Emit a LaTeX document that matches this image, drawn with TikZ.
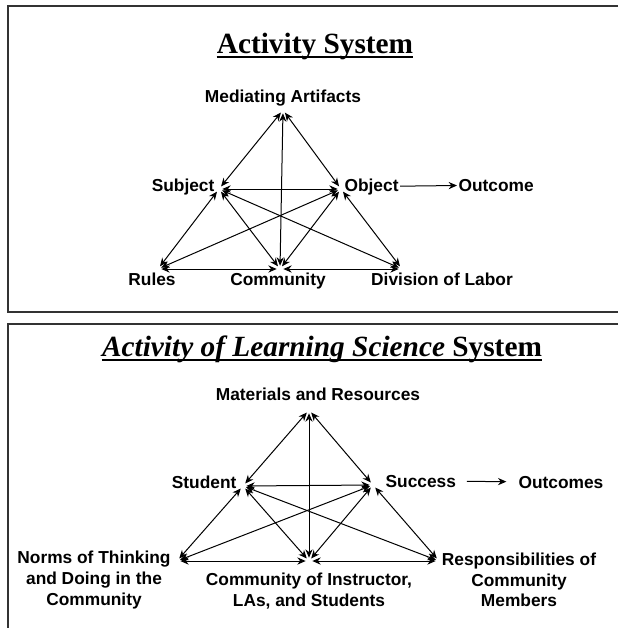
\documentclass[tikz,border=0pt]{standalone}
\usepackage{fontspec}
\setmainfont{Liberation Serif}
\setsansfont{Liberation Sans}
\usetikzlibrary{arrows.meta,positioning}

\begin{document}
\begin{tikzpicture}[x=0.75pt,y=-0.75pt,
    lbl/.style={font=\sffamily\bfseries\fontsize{13}{15.5}\selectfont, align=center, inner sep=1pt},
    ttl/.style={font=\bfseries\fontsize{22}{26}\selectfont, inner sep=0pt, anchor=base},
    link/.style={{Stealth[length=2.2mm,width=1.9mm]}-{Stealth[length=2.2mm,width=1.9mm]}, line width=0.75pt, shorten <=2.5pt, shorten >=2.5pt},
    arrow/.style={-{Stealth[length=2.2mm,width=1.9mm]}, line width=0.75pt},
    frame/.style={line width=1.2pt, draw=black!80}
  ]
    \useasboundingbox (0,0) rectangle (618,628);
    % frames
    \draw[frame] (618,6) -- (8,6) -- (8,312) -- (618,312);
    \draw[frame] (618,324) -- (8,324) -- (8,628);

    % activity system
    \node[ttl] (t1) at (315,53) {Activity System};
    \draw[line width=1.3pt] ([yshift=-3pt]t1.base west) -- ([yshift=-3pt]t1.base east);

    \coordinate (ma) at (283,110);
    \coordinate (s) at (219,189);
    \coordinate (o) at (341,189);
    \coordinate (r) at (158,269);
    \coordinate (c) at (280,269);
    \coordinate (d) at (402,269);

    \node[lbl, anchor=base] (med) at (283,102) {Mediating Artifacts};
    \node[lbl, anchor=base east] (subj) at (216,191) {Subject};
    \node[lbl, anchor=base west] (obj) at (343,191) {Object};
    \node[lbl, anchor=base west] (out) at (457,191) {Outcome};
    \node[lbl, anchor=base] (rul) at (152,285) {Rules};
    \node[lbl, anchor=base] (com) at (278,285) {Community};
    \node[lbl, anchor=base] (div) at (442,285) {Division of Labor};

    \draw[link] (ma) -- (s);
    \draw[link] (ma) -- (o);
    \draw[link] (ma) -- (c);
    \draw[link] (s) -- (o);
    \draw[link] (s) -- (r);
    \draw[link] (s) -- (c);
    \draw[link] (s) -- (d);
    \draw[link] (o) -- (r);
    \draw[link] (o) -- (c);
    \draw[link] (o) -- (d);
    \draw[link] (r) -- (c);
    \draw[link] (c) -- (d);
    \draw[arrow] (obj) -- (out);

    % learning science system
    \node[ttl] (t2) at (322,356) {{\itshape Activity of Learning Science} System};
    \draw[line width=1.3pt] ([yshift=-3pt]t2.base west) -- ([yshift=-3pt]t2.base east);

    \coordinate (mr) at (309,410);
    \coordinate (st) at (243,486);
    \coordinate (su) at (373,485);
    \coordinate (nt) at (177,561);
    \coordinate (ci) at (309,561);
    \coordinate (rm) at (439,561);

    \node[lbl, anchor=base] (mat) at (318,400) {Materials and Resources};
    \node[lbl, anchor=base east] (stu) at (238,488) {Student};
    \node[lbl, anchor=base west] (suc) at (384,487) {Success};
    \node[lbl, anchor=base] (outs) at (561,488) {Outcomes};
    \node[lbl] (nor) at (94,580) {Norms of Thinking\\and Doing in the\\Community};
    \node[lbl] (cmi) at (309,591) {Community of Instructor,\\LAs, and Students};
    \node[lbl] (res) at (519,580) {Responsibilities of\\Community\\Members};

    \draw[link] (mr) -- (st);
    \draw[link] (mr) -- (su);
    \draw[link] (mr) -- (ci);
    \draw[link] (st) -- (su);
    \draw[link] (st) -- (nt);
    \draw[link] (st) -- (ci);
    \draw[link] (st) -- (rm);
    \draw[link] (su) -- (nt);
    \draw[link] (su) -- (ci);
    \draw[link] (su) -- (rm);
    \draw[link] (nt) -- (ci);
    \draw[link] (ci) -- (rm);
    \draw[arrow, shorten <=7pt, shorten >=8pt] (suc) -- (outs);
  \end{tikzpicture}
\end{document}
